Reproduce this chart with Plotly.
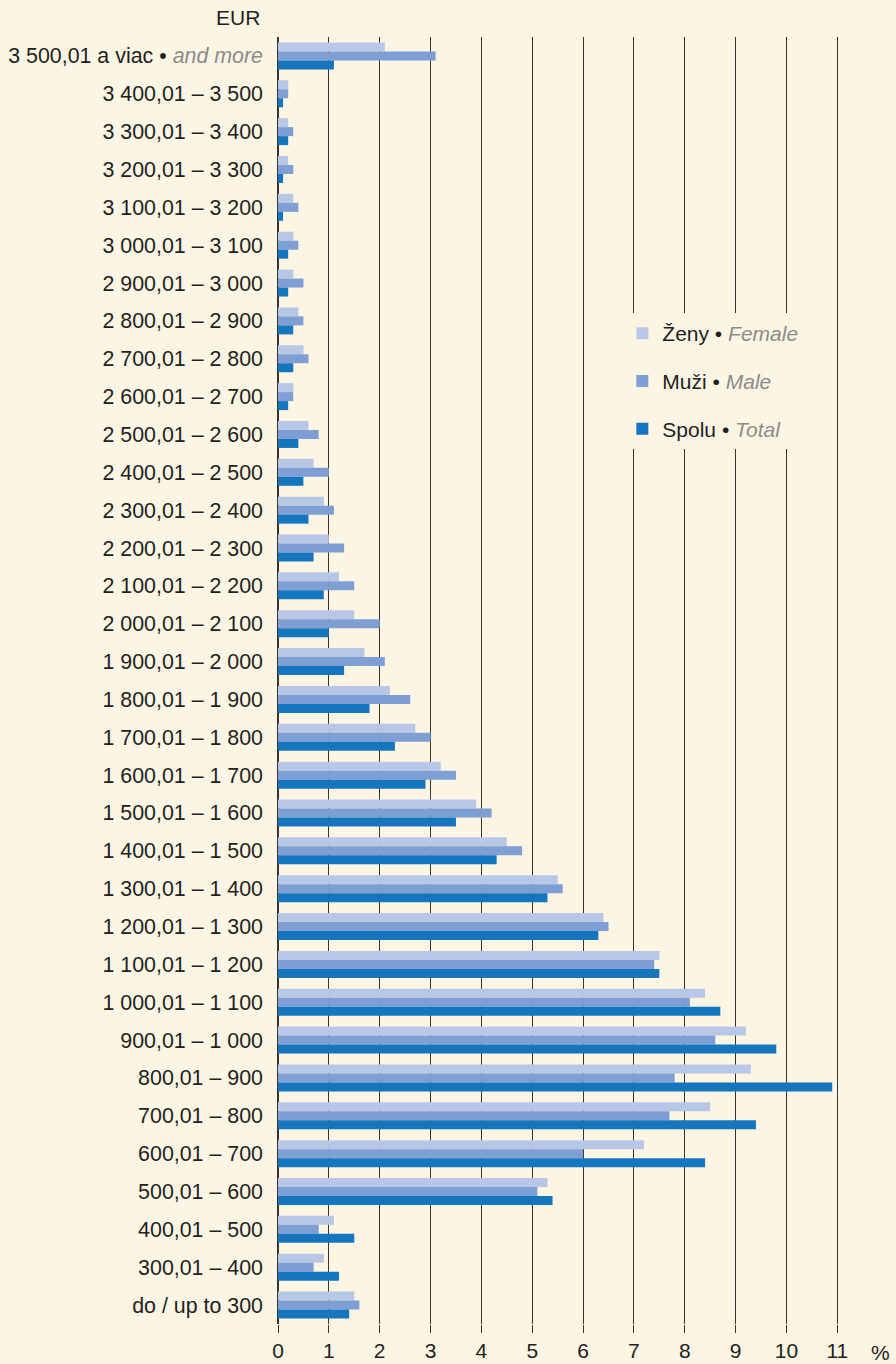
import plotly.graph_objects as go

categories = [
    "3 500,01 a viac • and more",
    "3 400,01 – 3 500", "3 300,01 – 3 400", "3 200,01 – 3 300", "3 100,01 – 3 200",
    "3 000,01 – 3 100", "2 900,01 – 3 000", "2 800,01 – 2 900", "2 700,01 – 2 800",
    "2 600,01 – 2 700", "2 500,01 – 2 600", "2 400,01 – 2 500", "2 300,01 – 2 400",
    "2 200,01 – 2 300", "2 100,01 – 2 200", "2 000,01 – 2 100", "1 900,01 – 2 000",
    "1 800,01 – 1 900", "1 700,01 – 1 800", "1 600,01 – 1 700", "1 500,01 – 1 600",
    "1 400,01 – 1 500", "1 300,01 – 1 400", "1 200,01 – 1 300", "1 100,01 – 1 200",
    "1 000,01 – 1 100", "900,01 – 1 000", "800,01 – 900", "700,01 – 800",
    "600,01 – 700", "500,01 – 600", "400,01 – 500", "300,01 – 400", "do / up to 300",
]
tick_labels = ['3 500,01 a viac • <span style="color:#8d8b8a"><i>and more</i></span>'] + categories[1:]

female = [2.1, 0.2, 0.2, 0.2, 0.3, 0.3, 0.3, 0.4, 0.5, 0.3, 0.6, 0.7, 0.9, 1.0, 1.2, 1.5, 1.7,
          2.2, 2.7, 3.2, 3.9, 4.5, 5.5, 6.4, 7.5, 8.4, 9.2, 9.3, 8.5, 7.2, 5.3, 1.1, 0.9, 1.5]
male = [3.1, 0.2, 0.3, 0.3, 0.4, 0.4, 0.5, 0.5, 0.6, 0.3, 0.8, 1.0, 1.1, 1.3, 1.5, 2.0, 2.1,
        2.6, 3.0, 3.5, 4.2, 4.8, 5.6, 6.5, 7.4, 8.1, 8.6, 7.8, 7.7, 6.0, 5.1, 0.8, 0.7, 1.6]
total = [1.1, 0.1, 0.2, 0.1, 0.1, 0.2, 0.2, 0.3, 0.3, 0.2, 0.4, 0.5, 0.6, 0.7, 0.9, 1.0, 1.3,
         1.8, 2.3, 2.9, 3.5, 4.3, 5.3, 6.3, 7.5, 8.7, 9.8, 10.9, 9.4, 8.4, 5.4, 1.5, 1.2, 1.4]

x_ticks = list(range(0, 12))

BG = "#fdf5e4"
TXT = "#231f20"
GRAY = "#8d8b8a"
GRID = "#3a3431"
FONT = "Liberation Sans, Arial, Helvetica, sans-serif"

series = [
    ("f", 'Ženy • <span style="color:%s"><i>Female</i></span>' % GRAY, female, "#b9c7e6"),
    ("m", 'Muži • <span style="color:%s"><i>Male</i></span>' % GRAY, male, "#7f9ed4"),
    ("t", 'Spolu • <span style="color:%s"><i>Total</i></span>' % GRAY, total, "#1576be"),
]

fig = go.Figure()
for grp, name, vals, col in series:
    fig.add_trace(go.Bar(
        x=vals, y=categories, orientation="h", name=name, legendgroup=grp,
        marker=dict(color=col, line=dict(width=0)),
    ))

fig.update_layout(
    width=896, height=1364,
    paper_bgcolor=BG, plot_bgcolor=BG,
    margin=dict(l=278, r=46, t=37, b=40, autoexpand=False),
    barmode="group", bargap=0.287, bargroupgap=0,
    font=dict(family=FONT, size=21, color=TXT),
    showlegend=True,
    legend=dict(
        x=0.602, y=0.7855, xanchor="left", yanchor="top",
        bgcolor=BG, borderwidth=0, traceorder="grouped", tracegroupgap=17.5,
        font=dict(family=FONT, size=21, color=TXT),
    ),
    xaxis=dict(
        range=[0, 11.25], tickvals=x_ticks, ticktext=[str(v) for v in x_ticks],
        showgrid=True, gridcolor=GRID, gridwidth=1.2,
        ticks="outside", ticklen=8, tickwidth=1.2, tickcolor=GRID,
        zeroline=True, zerolinecolor=GRID, zerolinewidth=1.5,
        showline=False, tickfont=dict(size=21, color=TXT), automargin=False,
    ),
    yaxis=dict(
        type="category", categoryorder="array", categoryarray=categories,
        tickvals=categories, ticktext=tick_labels,
        range=[33.5, -0.5], showgrid=False, zeroline=False, showline=False,
        ticks="", ticklabelstandoff=14, tickfont=dict(size=21.4, color=TXT),
        automargin=False,
    ),
    annotations=[
        dict(text="EUR", xref="paper", yref="paper", x=-0.028, y=1.0148,
             xanchor="right", yanchor="middle", showarrow=False,
             font=dict(size=21, color=TXT)),
        dict(text="%", xref="paper", yref="paper", x=1.054, y=-0.0218,
             xanchor="center", yanchor="middle", showarrow=False,
             font=dict(size=21, color=TXT)),
    ],
)

fig.write_html(
    "out.html",
    config={"displayModeBar": False},
    post_script="document.body.style.margin='0';document.body.style.background='%s';" % BG,
)
